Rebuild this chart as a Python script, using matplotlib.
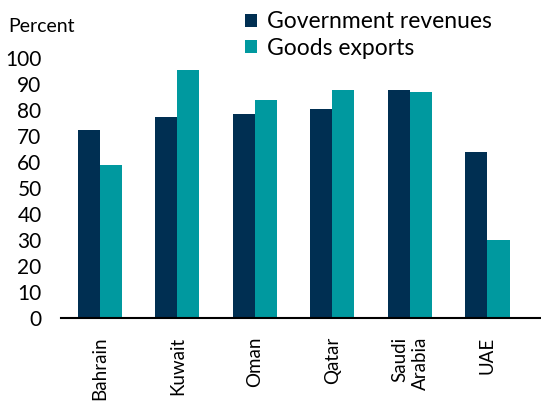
import matplotlib
matplotlib.use('Agg')
import matplotlib.pyplot as plt
import numpy as np

paises = ['Bahrain', 'Kuwait', 'Oman', 'Qatar', 'Saudi\nArabia', 'UAE']
ingresos_gobierno = [72.3, 77.4, 78.5, 80.3, 87.9, 63.7]
exportaciones_bienes = [58.7, 95.4, 83.7, 87.9, 87.1, 30.1]
ticks_y = list(range(0, 101, 10))

AZUL = '#002f52'
TURQUESA = '#00999f'

fig = plt.figure(figsize=(5.41, 4.03), dpi=100)
ax = fig.add_axes([0.1128, 0.2117, 0.8872, 0.644])

x = np.arange(len(paises))
ancho = 0.284
ax.bar(x - ancho / 2, ingresos_gobierno, ancho, color=AZUL, label='Government revenues')
ax.bar(x + ancho / 2, exportaciones_bienes, ancho, color=TURQUESA, label='Goods exports')

ax.set_xlim(-0.5, 5.69)
ax.set_ylim(0, 100)
ax.set_yticks(ticks_y)
ax.set_yticklabels([str(t) for t in ticks_y], fontsize=15, fontfamily='Lato')
ax.set_xticks(x)
ax.set_xticklabels(paises, rotation=90, fontsize=13.5, fontfamily='Lato', va='top',
                   multialignment='right', linespacing=1.3)
ax.tick_params(axis='both', length=0)
ax.tick_params(axis='x', pad=13.5)
ax.tick_params(axis='y', pad=14)
for lado in ['top', 'right', 'left']:
    ax.spines[lado].set_visible(False)
ax.spines['bottom'].set_linewidth(1.5)

fig.text(8 / 541, 1 - 26 / 403, 'Percent', fontsize=14, fontfamily='Lato', va='center', ha='left')

fig.legend(loc='upper left', bbox_to_anchor=(236 / 541, 1 - 2 / 403), frameon=False,
           prop={'family': 'Lato', 'size': 16.5}, handlelength=0.5, handleheight=0.5,
           handletextpad=0.45, labelspacing=0.25, borderaxespad=0)

plt.savefig('out.png', dpi=100)
plt.close()
